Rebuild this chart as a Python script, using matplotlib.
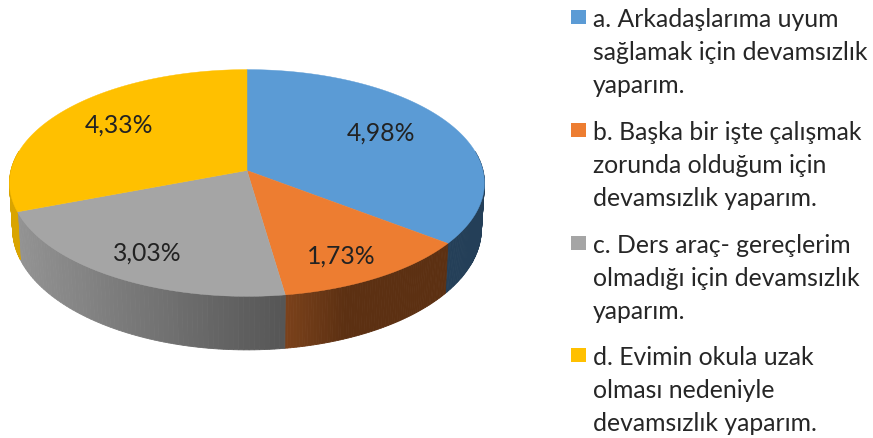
import numpy as np
import matplotlib
matplotlib.use("Agg")
import matplotlib.pyplot as plt
from matplotlib.colors import to_rgb

values = [4.98, 1.73, 3.03, 4.33]
data_labels = ["4,98%", "1,73%", "3,03%", "4,33%"]
legend_labels = [
    "a. Arkadaşlarıma uyum\nsağlamak için devamsızlık\nyaparım.",
    "b. Başka bir işte çalışmak\nzorunda olduğum için\ndevamsızlık yaparım.",
    "c. Ders araç- gereçlerim\nolmadığı için devamsızlık\nyaparım.",
    "d. Evimin okula uzak\nolması nedeniyle\ndevamsızlık yaparım.",
]
colors = ["#5B9BD5", "#ED7D31", "#A5A5A5", "#FFC000"]
side_light = ["#243F58", "#7C421B", "#939393", "#D9A400"]
side_dark = ["#243F58", "#5C3012", "#565656", "#D9A400"]
side_x = [(440, 484), (285, 345), (18, 285), (10, 20)]
label_xy = [(381, 133), (341, 256), (147, 253), (119, 125)]
legend_y = [51, 164, 277, 389]

HX, HY, R, K, P = 247, 171.5, 236, 112, 0.11
BY, BR, BK = 216.5, 233, 119.6


def ring(a, hy, r, k):
    w = 1 + P * np.cos(a)
    return HX + r * np.sin(a) / w, hy - k * np.cos(a) / w


fig = plt.figure(figsize=(8.73, 4.39), dpi=100)
ax = fig.add_axes([0, 0, 1, 1])
ax.set_xlim(0, 873)
ax.set_ylim(439, 0)
ax.axis("off")

edges = np.radians(np.concatenate([[0], np.cumsum(values)]) / np.sum(values) * 360)

# side wall (front-facing part only)
for i in range(len(values)):
    lo, hi = max(edges[i], np.radians(80)), min(edges[i + 1], np.radians(280))
    if hi <= lo:
        continue
    t = np.linspace(lo, hi, 70)
    c0, c1 = np.array(to_rgb(side_light[i])), np.array(to_rgb(side_dark[i]))
    for a, b in zip(t[:-1], t[1:]):
        xa, ya = ring(a, HY, R, K)
        xb, yb = ring(b, HY, R, K)
        xc, yc = ring(b, BY, BR, BK)
        xd, yd = ring(a, BY, BR, BK)
        f = np.clip((min(xa, xd) - side_x[i][0]) / (side_x[i][1] - side_x[i][0]), 0, 1)
        col = c0 + (c1 - c0) * f
        ax.fill([xa, xb, xc, xd], [ya, yb, yc, yd], color=col, lw=0.6, zorder=2)

# top face
for i in range(len(values)):
    t = np.linspace(edges[i], edges[i + 1], 200)
    x, y = ring(t, HY, R, K)
    ax.fill(np.r_[HX, x], np.r_[HY, y], color=colors[i], lw=0.3, zorder=3)

font = "Lato"
for (x, y), s in zip(label_xy, data_labels):
    ax.text(x, y, s, ha="center", va="center", fontsize=17.8, family=font, color="#222222", zorder=4)

for i, (y, s) in enumerate(zip(legend_y, legend_labels)):
    ax.add_patch(plt.Rectangle((571, y - 33 - 7), 15, 14, color=colors[i], lw=0))
    ax.text(593, y + 1.5, s, ha="left", va="center", fontsize=17.8, family=font,
            color="#262626", linespacing=1.51)

fig.savefig("out.png", dpi=100)
